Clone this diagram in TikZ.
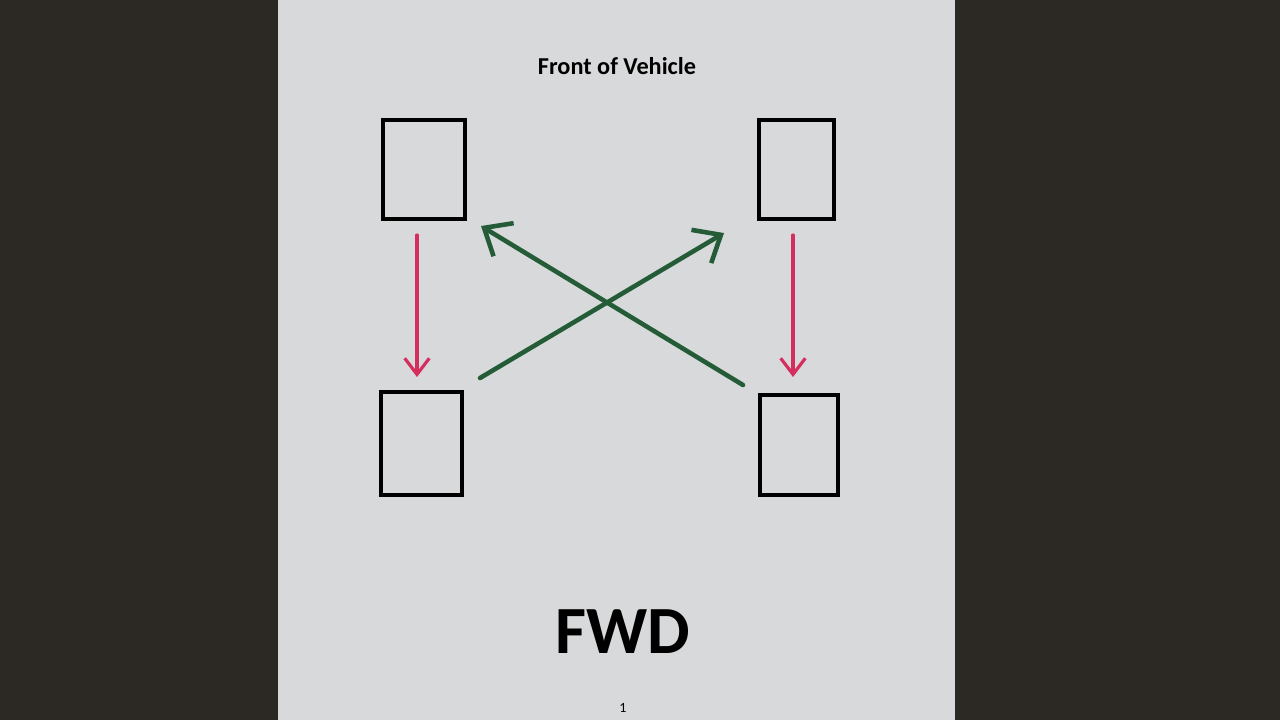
\documentclass[tikz,border=0pt]{standalone}
\usepackage{fontspec}
\setmainfont{Carlito}
\usetikzlibrary{arrows.meta,positioning}
\definecolor{desk}{RGB}{44,41,37}
\definecolor{paper}{RGB}{216,217,218}
\definecolor{markerred}{RGB}{214,45,95}
\definecolor{markergreen}{RGB}{36,92,56}
\tikzset{
  wheel/.style={draw, line width=1.3pt, inner sep=0pt},
  rotred/.style={markerred, line width=0.9pt, line cap=round, -{Straight Barb[length=4.6pt,width=7pt]}},
  rotgreen/.style={markergreen, line width=1.3pt, line cap=round, -{Straight Barb[length=6.5pt,width=11pt]}}
}
\begin{document}
\begin{tikzpicture}[x=0.01cm, y=-0.01cm]
    \useasboundingbox (0,0) rectangle (1280,720);
    % desk and sheet
    \fill[desk] (0,0) rectangle (1280,720);
    \fill[paper] (278,0) rectangle (955,720);

    \node[font=\bfseries\fontsize{6.9}{8}\selectfont] (title) at (617,66) {Front of Vehicle};

    % wheels
    \node[wheel, minimum width=0.82cm, minimum height=0.99cm] (fl) at (424,169.5) {};
    \node[wheel, minimum width=0.75cm, minimum height=0.99cm] (fr) at (796.5,169.5) {};
    \node[wheel, minimum width=0.81cm, minimum height=1.03cm] (rl) at (421.5,443.5) {};
    \node[wheel, minimum width=0.78cm, minimum height=1.00cm] (rr) at (799,445) {};

    % arrow ends
    \coordinate (fl out) at (417,235);
    \coordinate (rl in) at (417,377);
    \coordinate (fr out) at (793,235);
    \coordinate (rr in) at (793,377);
    \coordinate (rl out) at (480,378);
    \coordinate (fr in) at (724,233);
    \coordinate (rr out) at (743,385);
    \coordinate (fl in) at (481,226);

    \draw[rotred] (fl out) -- (rl in);
    \draw[rotred] (fr out) -- (rr in);
    \draw[rotgreen] (rl out) -- (fr in);
    \draw[rotgreen] (rr out) -- (fl in);

    \node[font=\bfseries\fontsize{19.2}{21}\selectfont] (drive) at (623,632) {FWD};
    \node[font=\fontsize{4}{5}\selectfont] (page) at (623,708) {1};
\end{tikzpicture}
\end{document}
